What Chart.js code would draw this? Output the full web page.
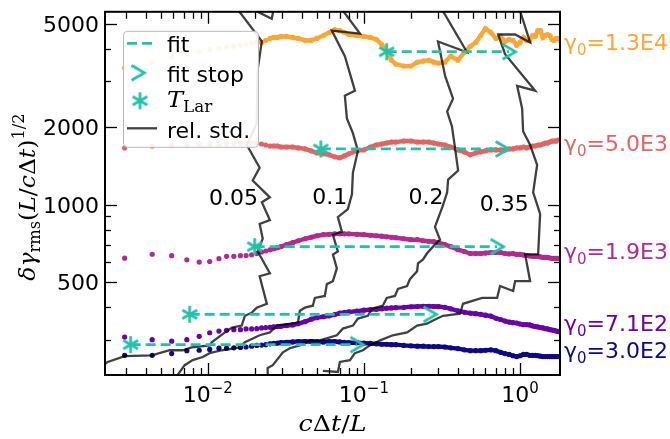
<!DOCTYPE html>
<html>
<head>
<meta charset="utf-8">
<script src="https://cdn.jsdelivr.net/npm/chart.js@4.4.0/dist/chart.umd.min.js"></script>
<style>
html, body { margin: 0; padding: 0; background: #fff; }
canvas { display: block; }
</style>
</head>
<body>
<canvas id="chart" width="670" height="439"></canvas>
<script>
// c*dt/L sample points shared by the five curves
const xs = [0.00294, 0.00441, 0.00588, 0.00735, 0.00882, 0.0103, 0.0118, 0.0132, 0.0147, 0.0162,
  0.0176, 0.0191, 0.0206, 0.0221, 0.0235, 0.025, 0.0265, 0.028, 0.0294, 0.032,
  0.035, 0.038, 0.042, 0.046, 0.05, 0.055, 0.06, 0.065, 0.07, 0.075,
  0.08, 0.09, 0.1, 0.11, 0.12, 0.13, 0.14, 0.15, 0.16, 0.18,
  0.2, 0.22, 0.24, 0.26, 0.28, 0.3, 0.33, 0.36, 0.4, 0.44,
  0.48, 0.52, 0.56, 0.6, 0.65, 0.7, 0.75, 0.8, 0.85, 0.9,
  0.95, 1.0, 1.05, 1.1, 1.15, 1.2, 1.25, 1.3, 1.35, 1.4,
  1.45, 1.5, 1.55, 1.6, 1.65, 1.7, 1.75, 1.8];

// delta gamma_rms * (L/c dt)^1/2 for each gamma0
const g13e4 = [3372, 3554, 3714, 3814, 3915, 3985, 4020, 4055, 4091, 4127,
  4164, 4200, 4237, 4237, 4312, 4389, 4428, 4428, 4467, 4467,
  4428, 4389, 4312, 4312, 4389, 4506, 4628, 4750, 4708, 4628,
  4546, 4506, 4467, 4428, 4350, 4164, 3915, 3617, 3492, 3431,
  3431, 3554, 3585, 3617, 3554, 3523, 3554, 3747, 3617, 3881,
  4091, 4237, 4506, 4792, 4628, 4389, 4467, 4274, 4350, 4312,
  4127, 4237, 4428, 4312, 4312, 4506, 4467, 4708, 4708, 4428,
  4506, 4546, 4506, 4350, 4312, 4389, 4389, 4312];
const g50e3 = [1655, 1684, 1699, 1699, 1714, 1714, 1714, 1714, 1729, 1729,
  1729, 1729, 1729, 1714, 1699, 1684, 1684, 1684, 1669, 1669,
  1669, 1655, 1640, 1612, 1583, 1570, 1556, 1529, 1515, 1542,
  1570, 1612, 1626, 1669, 1699, 1714, 1729, 1744, 1744, 1760,
  1760, 1744, 1744, 1744, 1729, 1714, 1699, 1669, 1626, 1597,
  1556, 1583, 1597, 1612, 1626, 1626, 1626, 1626, 1640, 1640,
  1655, 1655, 1669, 1655, 1669, 1684, 1684, 1699, 1699, 1714,
  1729, 1729, 1744, 1760, 1760, 1760, 1775, 1775];
const g19e3 = [620, 642, 634, 611, 599, 602, 617, 630, 630, 634,
  635, 639, 646, 655, 661, 668, 675, 681, 687, 699,
  712, 724, 737, 747, 757, 764, 767, 770, 770, 770,
  770, 767, 764, 760, 757, 754, 750, 747, 744, 737,
  731, 731, 724, 721, 718, 712, 699, 687, 669, 658,
  646, 646, 646, 649, 652, 652, 652, 646, 644, 646,
  641, 641, 638, 635, 632, 630, 630, 630, 627, 624,
  624, 624, 621, 619, 619, 619, 619, 616];
const g71e2 = [307, 300, 296, 300, 309, 319, 324, 326, 328, 328,
  330, 330, 331, 333, 334, 335, 336, 337, 338, 340,
  342, 346, 352, 360, 365, 368, 371, 375, 380, 382,
  384, 387, 390, 392, 393, 395, 397, 398, 399, 400,
  402, 403, 404, 404, 403, 403, 400, 395, 388, 383,
  380, 378, 376, 373, 370, 363, 359, 354, 351, 349,
  348, 345, 343, 343, 342, 339, 337, 336, 334, 333,
  331, 330, 328, 327, 326, 324, 323, 321];
const g30e2 = [261, 261, 265, 272, 273, 275, 278, 278, 279, 280,
  281, 283, 285, 286, 287, 289, 290, 291, 292, 293,
  294, 295, 295, 295, 294, 294, 295, 295, 294, 293,
  292, 292, 291, 290, 289, 288, 288, 287, 287, 285,
  284, 283, 283, 282, 282, 282, 281, 279, 277, 274,
  272, 272, 272, 273, 274, 272, 268, 265, 263, 260,
  258, 260, 263, 263, 261, 261, 261, 260, 259, 258,
  258, 258, 258, 258, 258, 258, 258, 258];

const seriesValues = [g13e4, g50e3, g19e3, g71e2, g30e2];
const gammaNames = ['1.3E4', '5.0E3', '1.9E3', '7.1E2', '3.0E2'];
const gammaLabelY = [4237, 1729, 658, 349, 274];

// plateau fits: T_Lar start, fit stop, level
const fitStart = [0.140, 0.0530, 0.0200, 0.00767, 0.00321];
const fitStop = [0.850, 0.767, 0.712, 0.265, 0.0902];
const fitLevel = [3900, 1640, 687, 376, 287];

// relative standard deviation contours, [x, y]; null breaks the line
const relStd005 = [[0.00219, 241], [0.00229, 246], [0.00294, 259], [0.00438, 261], [0.00571, 273],
  [0.00692, 273], [0.0079, 280], [0.0103, 285], [0.0106, 293], [0.0129, 320], [0.0143, 334],
  [0.0165, 340], [0.0173, 371], [0.0191, 381], [0.0206, 399], [0.0239, 413], [0.0215, 528],
  [0.025, 542], [0.0209, 658], [0.0225, 737], [0.0215, 841], [0.025, 871], [0.0222, 1020],
  [0.025, 1066], [0.0194, 1238], [0.0215, 1388], [0.0178, 1699], [0.0206, 2061], [0.0209, 3342],
  [0.0222, 4274], [0.0153, 5760], null, [0.0186, 5760], [0.0257, 5231], [0.0265, 5760]];
const relStd01 = [[0.00624, 214], [0.00712, 239], [0.00801, 250], [0.00929, 257], [0.0103, 266],
  [0.0123, 273], [0.016, 280], [0.0173, 293], [0.0215, 312], [0.025, 320], [0.0277, 340],
  [0.0378, 349], [0.0389, 388], [0.0419, 399], [0.0471, 406], [0.0485, 435], [0.0562, 443],
  [0.0579, 492], [0.0633, 505], [0.0671, 566], [0.0633, 641], [0.0681, 658], [0.0633, 764],
  [0.0723, 784], [0.0681, 894], [0.0789, 960], [0.0838, 1095], [0.085, 1328], [0.0915, 1612],
  [0.085, 1888], [0.0778, 2154], [0.0755, 2636], [0.0876, 2755], [0.0755, 3747], [0.0623, 4709],
  [0.0943, 4586], [0.0712, 5760]];
const relStd02 = [[0.0242, 214], [0.0242, 233], [0.0261, 239], [0.0303, 268], [0.0335, 278],
  [0.0389, 285], [0.0451, 298], [0.0522, 298], [0.0671, 312], [0.0733, 331], [0.085, 340],
  [0.0915, 362], [0.106, 371], [0.1125, 395], [0.132, 406], [0.14, 435], [0.158, 443],
  [0.165, 471], [0.189, 484], [0.197, 514], [0.219, 552], [0.222, 592], [0.239, 613],
  [0.253, 646], [0.277, 687], [0.307, 731], [0.285, 819], [0.321, 994], [0.341, 1114],
  [0.346, 1249], [0.401, 1352], [0.383, 1655], [0.366, 2007], [0.341, 2290], [0.372, 2568],
  [0.331, 3143], [0.298, 4274], [0.457, 3881], [0.312, 5760]];
const relStd035 = [[0.0546, 227], [0.0681, 225], [0.0702, 246], [0.0814, 250], [0.0876, 266],
  [0.0985, 273], [0.109, 285], [0.127, 298], [0.153, 312], [0.189, 320], [0.219, 340],
  [0.253, 346], [0.277, 356], [0.321, 371], [0.412, 378], [0.431, 413], [0.571, 435],
  [0.712, 435], [0.744, 484], [0.902, 463], [0.929, 505], [1.159, 505], [1.077, 641],
  [1.304, 641], [1.343, 919], [1.212, 1114], [1.285, 1425], [1.159, 1699], [1.045, 1921],
  [1.03, 2352], [0.957, 2879], [1.248, 2755], [0.801, 3814], [0.723, 4546], [0.929, 4546],
  [1.159, 4237], [0.985, 5760]];
const contours = [relStd005, relStd01, relStd02, relStd035];
const contourNames = ['0.05', '0.1', '0.2', '0.35'];
const contourLabelX = [0.0146, 0.0605, 0.25, 0.79];
const contourLabelY = [1066, 1080, 1080, 1016];

// axes
const xMin = 0.0022, xMax = 1.8;
const yMin = 219, yMax = 5565;
const xTickValues = [0.01, 0.1, 1];
const yTickValues = [500, 1000, 2000, 5000];

const plasma = ['#fca636', '#e16462', '#b12a90', '#6a00a8', '#0d0887'];
const teal = '#22c2aa';
const stdColor = 'rgba(0,0,0,0.75)';
const SANS = '"DejaVu Sans"';
const SERIF = '"DejaVu Serif"';

function makeStar(color, r) {
  const c = document.createElement('canvas');
  c.width = c.height = 2 * r + 4;
  const g = c.getContext('2d');
  g.strokeStyle = color; g.lineWidth = 2.7;
  g.translate(r + 2, r + 2);
  [90, 30, -30].forEach(a => {
    const t = a * Math.PI / 180;
    g.beginPath();
    g.moveTo(-r * Math.cos(t), -r * Math.sin(t));
    g.lineTo(r * Math.cos(t), r * Math.sin(t));
    g.stroke();
  });
  return c;
}
function makeChevron(color) {
  const c = document.createElement('canvas');
  c.width = c.height = 20;
  const g = c.getContext('2d');
  g.strokeStyle = color; g.lineWidth = 2.7;
  g.beginPath(); g.moveTo(3.5, 2.5); g.lineTo(16.5, 10); g.lineTo(3.5, 17.5); g.stroke();
  return c;
}
const starImg = makeStar(teal, 8.5);
const chevronImg = makeChevron(teal);

// text run with mixed fonts: [text, font, dy]
function drawRun(g, parts, x, y, align, sx) {
  sx = sx || 1;
  let w = 0;
  parts.forEach(p => { g.font = p[1]; w += g.measureText(p[0]).width * sx; });
  let cx = align === 'center' ? x - w / 2 : align === 'right' ? x - w : x;
  parts.forEach(p => {
    g.font = p[1];
    const pw = g.measureText(p[0]).width * sx;
    g.save();
    g.translate(cx, y + (p[2] || 0));
    g.scale(sx, 1);
    g.textAlign = 'left'; g.textBaseline = 'alphabetic';
    g.fillText(p[0], 0, 0);
    g.restore();
    cx += pw;
  });
  return w;
}

const datasets = [];
fitStart.forEach((x0, i) => {
  datasets.push({
    data: [{ x: x0, y: fitLevel[i] }, { x: fitStop[i], y: fitLevel[i] }],
    showLine: true, borderColor: teal, borderWidth: 2.8, borderDash: [10, 5],
    pointStyle: [starImg, chevronImg], pointRadius: 9, order: 0
  });
});
contours.forEach(c => {
  datasets.push({
    data: c.map(p => p ? { x: p[0], y: p[1] } : { x: null, y: null }),
    showLine: true, borderColor: stdColor, borderWidth: 2.3, pointRadius: 0,
    spanGaps: false, clip: 0, order: 1
  });
});
seriesValues.forEach((ys, i) => {
  const col = plasma[i];
  const pts = xs.map((x, j) => ({ x: x, y: ys[j] }));
  // samples merge into a solid line once they are closely spaced on the log axis
  let k = 1;
  while (k < xs.length && xs[k] / xs[k - 1] > 1.062) k++;
  datasets.push({
    data: pts, showLine: false,
    pointRadius: 2.6, pointBorderWidth: 0, pointBackgroundColor: col, order: 2
  });
  datasets.push({
    data: pts.slice(k - 1), showLine: true, borderColor: col, borderWidth: 4.4,
    pointRadius: 0, order: 2
  });
});

const decor = {
  id: 'decor',
  afterDatasetsDraw(chart) {
    const g = chart.ctx, sx = chart.scales.x, sy = chart.scales.y;
    g.save();
    g.fillStyle = '#000';
    contourNames.forEach((t, i) => {
      drawRun(g, [[t, '22px ' + SANS]], sx.getPixelForValue(contourLabelX[i]),
        sy.getPixelForValue(contourLabelY[i]) + 8, 'center');
    });
    g.restore();
  },
  afterDraw(chart) {
    const g = chart.ctx, a = chart.chartArea, sx = chart.scales.x, sy = chart.scales.y;
    g.save();
    g.strokeStyle = '#000';
    g.lineWidth = 1.3;
    const seg = (x1, y1, x2, y2) => { g.beginPath(); g.moveTo(x1, y1); g.lineTo(x2, y2); g.stroke(); };
    for (let d = -3; d <= 0; d++) {
      for (let m = 1; m <= 9; m++) {
        const v = m * Math.pow(10, d);
        if (v < xMin || v > xMax) continue;
        const px = Math.round(sx.getPixelForValue(v)) + 0.5;
        const len = m === 1 ? 12 : 7;
        seg(px, a.bottom, px, a.bottom - len);
        seg(px, a.top, px, a.top + len);
      }
    }
    for (let d = 2; d <= 3; d++) {
      for (let m = 1; m <= 9; m++) {
        const v = m * Math.pow(10, d);
        if (v < yMin || v > yMax) continue;
        const py = Math.round(sy.getPixelForValue(v)) + 0.5;
        const len = yTickValues.includes(v) ? 12 : 6;
        seg(a.left, py, a.left + len, py);
        seg(a.right, py, a.right - len, py);
      }
    }
    g.lineWidth = 2;
    g.strokeRect(a.left, a.top, a.right - a.left, a.bottom - a.top);

    // tick labels
    g.fillStyle = '#000';
    yTickValues.forEach(v => {
      drawRun(g, [[String(v), '22px ' + SANS]], a.left - 6, sy.getPixelForValue(v) + 8, 'right');
    });
    xTickValues.forEach(v => {
      const e = Math.round(Math.log10(v));
      const es = e < 0 ? '\u2212' + (-e) : String(e);
      drawRun(g, [['10', '22px ' + SANS], [es, '15px ' + SANS, -9]],
        sx.getPixelForValue(v), a.bottom + 27, 'center');
    });

    // axis titles
    const it = 'italic 23px ' + SERIF, up = '23px ' + SERIF;
    drawRun(g, [['c', it], ['\u0394', up], ['t', it], ['/', up], ['L', it]],
      (a.left + a.right) / 2, 431, 'center', 1.1);
    g.save();
    g.translate(35, 197);
    g.rotate(-Math.PI / 2);
    drawRun(g, [['\u03b4\u03b3', it], ['rms', '16px ' + SERIF, 5], ['(', up], ['L', it], ['/', up],
      ['c', it], ['\u0394', up], ['t', it], [')', up], ['1/2', '16px ' + SERIF, -11]], 0, 0, 'center', 1.02);
    g.restore();

    // gamma0 labels
    gammaNames.forEach((t, i) => {
      g.fillStyle = plasma[i];
      drawRun(g, [['\u03b3', '22px ' + SANS], ['0', '15px ' + SANS, 5], ['=' + t, '22px ' + SANS]],
        a.right + 4, sy.getPixelForValue(gammaLabelY[i]) + 8, 'left');
    });

    // legend
    const lx = a.left + 18, ly = a.top + 19, lw = 135, lh = 116;
    g.beginPath();
    g.roundRect(lx + 0.5, ly + 0.5, lw, lh, 4);
    g.fillStyle = 'rgba(255,255,255,0.9)';
    g.fill();
    g.strokeStyle = '#b8b8b8'; g.lineWidth = 1;
    g.stroke();
    g.strokeStyle = teal; g.lineWidth = 2.8;
    g.setLineDash([10, 5]);
    seg(lx + 4, ly + 12.5, lx + 33, ly + 12.5);
    g.setLineDash([]);
    g.drawImage(chevronImg, lx + 5, ly + 32);
    g.drawImage(starImg, lx + 6.5, ly + 59.5);
    g.strokeStyle = stdColor; g.lineWidth = 2.3;
    seg(lx + 4, ly + 97.5, lx + 34, ly + 97.5);
    g.fillStyle = '#000';
    drawRun(g, [['fit', '22px ' + SANS]], lx + 44, ly + 21, 'left');
    drawRun(g, [['fit stop', '22px ' + SANS]], lx + 44, ly + 51, 'left');
    drawRun(g, [['T', it], ['Lar', '16px ' + SERIF, 5]], lx + 44, ly + 76, 'left', 1.05);
    drawRun(g, [['rel. std.', '22px ' + SANS]], lx + 44, ly + 107.5, 'left');
    g.restore();
  }
};

new Chart(document.getElementById('chart'), {
  type: 'scatter',
  data: { datasets: datasets },
  options: {
    responsive: false,
    animation: false,
    devicePixelRatio: 1,
    layout: { padding: { top: 7, right: 110, left: 0, bottom: 0 } },
    plugins: { legend: { display: false }, tooltip: { enabled: false } },
    scales: {
      x: {
        type: 'logarithmic', min: xMin, max: xMax,
        grid: { display: false }, border: { display: false },
        ticks: { display: false },
        afterFit: s => { s.height = 64; }
      },
      y: {
        type: 'logarithmic', min: yMin, max: yMax,
        grid: { display: false }, border: { display: false },
        ticks: { display: false },
        afterFit: s => { s.width = 105; }
      }
    }
  },
  plugins: [decor]
});
</script>
</body>
</html>
